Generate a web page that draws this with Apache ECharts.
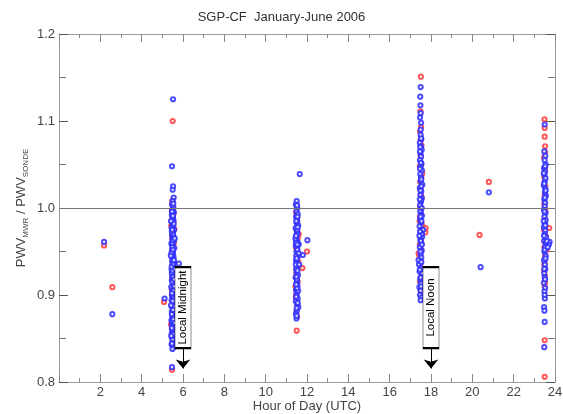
<!DOCTYPE html>
<html><head><meta charset="utf-8">
<script src="https://cdn.jsdelivr.net/npm/echarts@6/dist/echarts.min.js"></script>
<style>html,body{margin:0;padding:0;background:#fff}#c{width:563px;height:414px}</style>
</head><body><div id="c"></div>
<script>
// ---- data: [hour UTC, PWV_MWR / PWV_SONDE] ----
var blueMidnight = [[5.52,1.125],[5.47,1.048],[5.52,1.025],[5.5,1.021],[5.55,1.012],[5.5,1.008],[5.47,1.004],[5.53,1.001],[5.49,0.998],[5.56,0.995],[5.46,0.992],[5.51,0.989],[5.54,0.986],[5.48,0.983],[5.52,0.980],[5.45,0.977],[5.57,0.975],[5.5,0.972],[5.47,0.969],[5.53,0.967],[5.49,0.964],[5.55,0.962],[5.44,0.959],[5.51,0.957],[5.58,0.954],[5.48,0.952],[5.52,0.949],[5.46,0.947],[5.54,0.944],[5.5,0.942],[5.47,0.939],[5.56,0.937],[5.8,0.936],[5.49,0.934],[5.53,0.932],[5.45,0.929],[5.51,0.927],[5.57,0.924],[5.48,0.922],[5.52,0.919],[5.46,0.917],[5.55,0.914],[5.5,0.912],[5.43,0.909],[5.53,0.907],[5.49,0.904],[5.56,0.902],[5.47,0.899],[5.52,0.897],[5.11,0.896],[5.45,0.894],[5.54,0.891],[5.5,0.889],[5.48,0.886],[5.58,0.884],[5.46,0.881],[5.52,0.879],[5.49,0.876],[5.55,0.874],[5.44,0.871],[5.51,0.868],[5.47,0.866],[5.53,0.863],[5.5,0.861],[5.56,0.858],[5.46,0.856],[5.52,0.853],[5.48,0.851],[5.54,0.848],[5.5,0.846],[5.45,0.843],[5.53,0.84],[5.49,0.838],[5.47,0.817],[5.5,0.995],[5.52,0.97],[5.48,0.955],[5.51,0.935],[5.49,0.915],[5.53,0.895],[5.5,0.875],[5.48,0.96],[5.54,0.905],[5.46,0.925],[5.55,0.965],[5.5,0.985],
  [5.53,1.005],[5.47,0.996],[5.55,0.982],[5.46,0.973],[5.52,0.963],[5.49,0.946],[5.56,0.94],[5.45,0.932],[5.51,0.921],[5.54,0.911],[5.47,0.902],[5.5,0.893],[5.55,0.887],[5.46,0.878],[5.52,0.869],[5.48,0.86],[5.53,0.855],[5.5,0.849],[5.47,0.844],[5.51,0.952],[5.44,0.948],[5.58,0.918],[5.5,0.928],[5.52,0.883],[5.62,0.93],[5.48,0.975],[5.51,0.991],[5.49,0.87],[5.46,0.862],[5.54,0.872],
  [5.42,0.985],[5.6,0.965],[5.41,0.945],[5.59,0.91],[5.42,0.888],[5.6,0.868],[5.43,0.853]];
var redMidnight = [[5.5,1.1],[5.48,1.008],[5.52,1.0],[5.46,0.997],[5.54,0.993],[5.5,0.99],[5.47,0.987],[5.53,0.984],[5.45,0.979],[5.58,0.976],[5.5,0.968],[5.56,0.96],[5.46,0.95],[5.52,0.94],[5.57,0.93],[5.48,0.92],[5.53,0.91],[5.08,0.892],[5.46,0.9],[5.55,0.885],[5.49,0.873],[5.42,0.866],[5.52,0.858],[5.47,0.851],[5.5,0.845],[5.47,0.814],[5.44,0.98],[5.56,0.9],[5.5,0.862],
  [5.51,0.995],[5.49,1.004],[5.52,0.975],[5.48,0.965],[5.53,0.955],[5.5,0.925],[5.47,0.905],[5.52,0.88],[5.49,0.868],[5.5,0.935]];
var blueMidday = [[11.5,1.008],[11.46,1.004],[11.53,1.0],[11.49,0.996],[11.55,0.993],[11.47,0.99],[11.52,0.986],[11.5,0.983],[11.57,0.98],[11.45,0.977],[11.51,0.973],[11.54,0.97],[11.48,0.967],[11.5,0.963],[12.02,0.963],[11.56,0.96],[11.46,0.957],[11.52,0.953],[11.49,0.95],[11.8,0.946],[11.55,0.944],[11.47,0.94],[11.51,0.937],[11.53,0.933],[11.48,0.93],[11.5,0.926],[11.56,0.923],[11.45,0.92],[11.52,0.916],[11.49,0.913],[11.54,0.91],[11.47,0.906],[11.51,0.903],[11.5,0.9],[11.55,0.896],[11.46,0.893],[11.52,0.89],[11.58,0.886],[11.5,0.882],[11.47,0.878],[11.49,0.873],[11.65,1.039],[11.53,0.975],[11.48,0.945],[11.51,0.918],[11.6,0.958],[11.44,0.965],[11.57,0.905],
  [11.52,1.003],[11.48,0.985],[11.55,0.978],[11.47,0.96],[11.53,0.952],[11.5,0.942],[11.46,0.935],[11.54,0.928],[11.49,0.921],[11.52,0.908],[11.48,0.898],[11.55,0.891],[11.5,0.885],[11.47,0.968],[11.53,0.958],[11.6,0.948],[11.62,0.935],[11.5,0.876],[11.54,0.99],[11.48,0.912]];
var redMidday = [[11.5,1.002],[11.47,0.995],[11.53,0.985],[11.49,0.975],[11.56,0.966],[11.46,0.955],[12.0,0.95],[11.52,0.943],[11.78,0.931],[11.48,0.925],[11.55,0.915],[11.5,0.905],[11.46,0.897],[11.53,0.889],[11.49,0.88],[11.5,0.859],[11.58,0.938],[11.44,0.91],[11.6,0.97],
  [11.52,0.99],[11.48,0.96],[11.55,0.948],[11.5,0.92],[11.47,0.9],[11.52,0.875],[11.49,0.93]];
var blueNoon = [[17.5,1.139],[17.48,1.128],[17.5,1.109],[17.47,1.104],[17.52,1.098],[17.5,1.084],[17.53,1.079],[17.46,1.075],[17.51,1.071],[17.55,1.067],[17.49,1.063],[17.52,1.059],[17.47,1.055],[17.54,1.051],[17.5,1.047],[17.56,1.043],[17.48,1.039],[17.52,1.035],[17.5,1.031],[17.58,1.027],[17.46,1.023],[17.53,1.019],[17.49,1.015],[17.55,1.011],[17.51,1.007],[17.47,1.003],[17.53,0.999],[17.5,0.995],[17.56,0.991],[17.48,0.987],[17.52,0.983],[17.45,0.979],[17.54,0.975],[17.5,0.971],[17.57,0.967],[17.49,0.963],[17.52,0.959],[17.46,0.955],[17.55,0.951],[17.5,0.947],[17.53,0.943],[17.48,0.939],[17.42,0.935],[17.51,0.931],[17.45,0.927],[17.55,0.922],[17.48,0.918],[17.52,0.913],[17.44,0.909],[17.5,0.905],[17.47,0.9],[17.53,0.897],[17.5,0.894],[17.56,0.97],[17.62,0.975],[17.4,0.94],[17.58,0.925],[17.47,1.065],[17.53,1.025],[17.49,0.99],
  [17.52,1.08],[17.48,1.07],[17.51,1.052],[17.47,1.045],[17.53,1.033],[17.49,1.02],[17.52,1.009],[17.48,0.997],[17.54,0.985],[17.47,0.973],[17.51,0.962],[17.49,0.95],[17.53,0.938],[17.46,0.929],[17.5,0.92],[17.56,0.958],[17.44,0.968],[17.55,1.0],[17.46,1.01],[17.52,0.91],[17.49,1.118],[17.5,1.09]];
var redNoon = [[17.51,1.151],[17.49,1.111],[17.52,1.093],[17.47,1.088],[17.54,1.072],[17.5,1.06],[17.46,1.048],[17.53,1.036],[17.49,1.022],[17.55,1.012],[17.48,1.001],[17.52,0.993],[17.45,0.985],[17.57,0.98],[17.74,0.977],[17.73,0.972],[17.5,0.966],[17.46,0.958],[17.4,0.948],[17.53,0.952],[17.49,0.936],[17.55,0.925],[17.47,0.915],[17.51,0.905],[17.44,0.945],[17.58,1.04],
  [17.5,1.078],[17.52,1.05],[17.48,1.03],[17.51,1.015],[17.47,0.99],[17.53,0.96],[17.5,0.92]];
var blueEvening = [[23.5,1.096],[23.48,1.065],[23.53,1.06],[23.5,1.055],[23.55,1.05],[23.47,1.046],[23.52,1.042],[23.49,1.038],[23.54,1.034],[23.5,1.03],[23.46,1.026],[23.53,1.022],[23.51,1.018],[23.56,1.014],[23.48,1.01],[23.52,1.006],[23.5,1.002],[23.47,0.998],[23.54,0.994],[23.49,0.99],[23.55,0.986],[23.51,0.982],[23.46,0.978],[23.53,0.974],[23.5,0.97],[23.57,0.966],[23.74,0.961],[23.7,0.958],[23.48,0.962],[23.52,0.955],[23.49,0.95],[23.55,0.945],[23.47,0.94],[23.51,0.935],[23.53,0.93],[23.48,0.925],[23.5,0.92],[23.46,0.914],[23.52,0.908],[23.49,0.904],[23.51,0.896],[23.47,0.886],[23.49,0.882],[23.5,0.869],[23.48,0.84],[23.56,0.96],[23.45,0.985],
  [23.52,1.048],[23.48,1.028],[23.51,1.012],[23.49,0.996],[23.53,0.98],[23.47,0.968],[23.5,0.952],[23.54,0.942],[23.48,0.93],[23.52,0.918],[23.5,0.9],[23.6,0.962],[23.65,0.955],[23.55,1.02],[23.46,1.04]];
var redEvening = [[23.49,1.102],[23.5,1.082],[23.52,1.071],[23.47,1.058],[23.51,1.045],[23.49,1.035],[23.53,1.025],[23.5,1.015],[23.48,1.005],[23.54,0.996],[23.5,0.988],[23.47,0.975],[23.72,0.977],[23.55,0.968],[23.49,0.955],[23.52,0.945],[23.6,0.952],[23.48,0.935],[23.51,0.922],[23.5,0.91],[23.5,0.848],[23.5,0.806],
  [23.5,1.092],[23.52,1.064],[23.48,1.04],[23.5,1.0],[23.53,0.98],[23.49,0.962],[23.51,0.94],[23.48,0.928],[23.52,0.915]];
var blueOther = [[2.18,0.961],[2.58,0.878],[20.4,0.932],[20.8,1.018]];
var redOther = [[2.18,0.957],[2.58,0.909],[20.35,0.969],[20.8,1.03]];

var xTicks = [2,4,6,8,10,12,14,16,18,20,22,24];
var yTicks = [0.8,0.9,1.0,1.1,1.2];
var annotations = [
  {name:'Local Midnight', hour:6,  boxCenter:0.8856, boxBottom:0.839, arrowTip:0.8155},
  {name:'Local Noon',     hour:18, boxCenter:0.8856, boxBottom:0.839, arrowTip:0.8155}
];
var refLine = 1.0;

var redData = [].concat(redMidnight, redMidday, redNoon, redEvening, redOther);
var blueData = [].concat(blueMidnight, blueMidday, blueNoon, blueEvening, blueOther);

var FONT = 'Liberation Sans, Arial, sans-serif';
var chart = echarts.init(document.getElementById('c'), null, {renderer:'canvas'});

function xAxisCfg(pos){
  return {
    type:'value', position:pos, min:0, max:24, interval:2,
    axisLine:{show:true, onZero:false, lineStyle:{color:'#999', width:1}},
    axisTick:{show:true, inside:true, length:8, lineStyle:{color:'#888'}},
    minorTick:{show:true, splitNumber:2, length:4, lineStyle:{color:'#888'}},
    splitLine:{show:false},
    axisLabel:{show: pos==='bottom', margin:4, color:'#444', fontFamily:FONT, fontSize:13,
      formatter:function(v){ return xTicks.indexOf(v)>=0 ? String(v) : ''; }},
    name: pos==='bottom' ? 'Hour of Day (UTC)' : '',
    nameLocation:'middle', nameGap:18, nameMoveOverlap:false,
    nameTextStyle:{color:'#444', fontFamily:FONT, fontSize:13}
  };
}
function yAxisCfg(pos){
  return {
    type:'value', position:pos, min:0.8, max:1.2, interval:0.1,
    axisLine:{show:true, onZero:false, lineStyle:{color:'#999', width:1}},
    axisTick:{show:true, inside:true, length:9, lineStyle:{color:'#555'}},
    minorTick:{show:true, splitNumber:2, length:7, lineStyle:{color:'#777'}},
    splitLine:{show:false},
    axisLabel:{show: pos==='left', margin:4, color:'#444', fontFamily:FONT, fontSize:13,
      formatter:function(v){ var t=yTicks.filter(function(k){return Math.abs(k-v)<1e-6;}); return t.length? t[0].toFixed(1):''; }},
    name: pos==='left' ? '{a|PWV}{s|MWR}{a| / PWV}{s|SONDE}' : '',
    nameLocation:'middle', nameGap:28, nameRotate:90, nameMoveOverlap:false,
    nameTextStyle:{color:'#444', fontFamily:FONT, fontSize:13,
      rich:{ a:{fontSize:13, fontFamily:FONT, color:'#444', lineHeight:20, verticalAlign:'middle'},
             s:{fontSize:8, fontFamily:FONT, color:'#444', lineHeight:20, verticalAlign:'bottom', padding:[0,0,1,0]} }}
  };
}

var markPointData = annotations.map(function(a){
  return {name:a.name, coord:[a.hour, a.boxCenter], value:a.name};
});
var markLineData = annotations.map(function(a){
  return [{coord:[a.hour, a.boxBottom]},{coord:[a.hour, a.arrowTip]}];
});
markLineData.push([{coord:[0, refLine], symbol:'none', lineStyle:{color:'#777', width:1}},{coord:[24, refLine], symbol:'none'}]);

chart.setOption({
  animation:false,
  backgroundColor:'#fff',
  title:{text:'SGP-CF  January-June 2006', left:'center', top:6,
    textStyle:{fontFamily:FONT, fontSize:13, fontWeight:'normal', color:'#333'}},
  grid:{left:59, right:8, top:34, bottom:32, containLabel:false, outerBoundsMode:'none'},
  xAxis:[xAxisCfg('bottom'), xAxisCfg('top')],
  yAxis:[yAxisCfg('left'), yAxisCfg('right')],
  series:[
    {type:'scatter', name:'red', data:redData, symbol:'emptyCircle', symbolSize:4.2,
      itemStyle:{color:'#ff3b3b', borderColor:'#ff3b3b', borderWidth:0.9, opacity:0.85}, z:2},
    {type:'scatter', name:'blue', data:blueData, symbol:'emptyCircle', symbolSize:4.2,
      itemStyle:{color:'#2f2fff', borderColor:'#2f2fff', borderWidth:0.9, opacity:0.85}, z:3,
      markLine:{silent:true, symbol:['none','arrow'], symbolSize:[11,9], label:{show:false},
        lineStyle:{color:'#000', width:1, type:'solid', opacity:1}, data:markLineData, z:4},
      markPoint:{silent:true, symbol:'rect', symbolSize:[16,81], z:5,
        itemStyle:{color:'#fff', borderColor:'#000', borderWidth:1, opacity:1},
        label:{show:true, position:'inside', rotate:90, color:'#000', fontFamily:FONT, fontSize:11.5,
          formatter:function(p){return p.name;}},
        data:markPointData}
    }
  ]
});
</script>
</body></html>
